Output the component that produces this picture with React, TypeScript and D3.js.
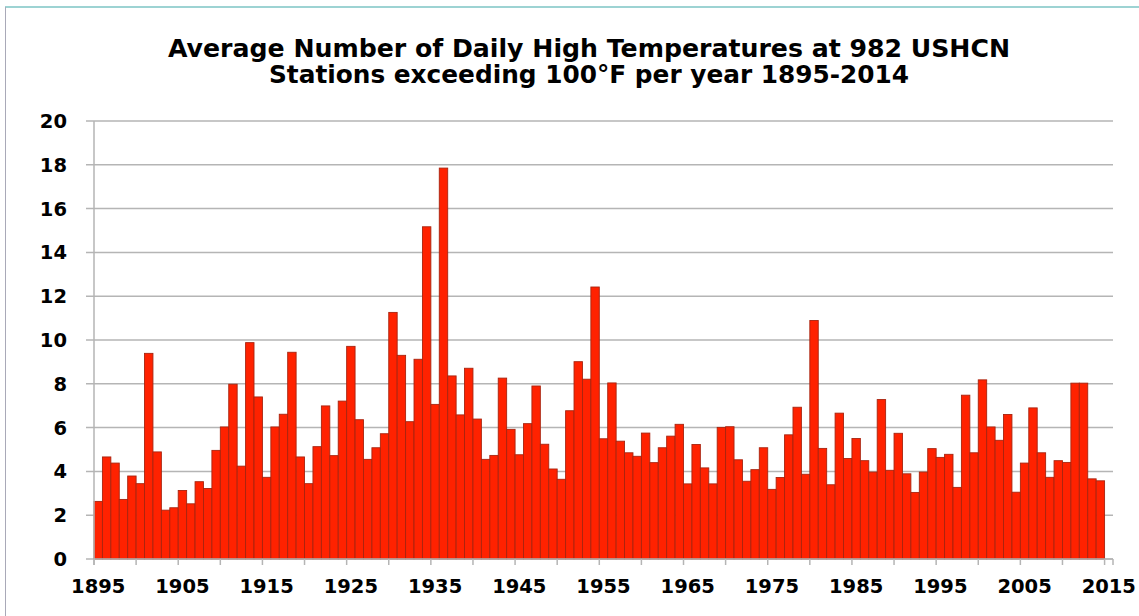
import React, { useEffect, useRef } from "react";
import * as d3 from "d3";

// years on the category axis (2015 slot is empty, like the source sheet)
const years: number[] = d3.range(1895, 2016);

// avg number of days above 100F, 1895-2014
const daysOver100: number[] = [
  2.63, 4.66, 4.38, 2.72, 3.79, 3.44, 9.39, 4.89, 2.23, 2.34,
  3.13, 2.52, 3.53, 3.22, 4.96, 6.03, 7.98, 4.24, 9.88, 7.40,
  3.73, 6.03, 6.61, 9.44, 4.66, 3.44, 5.13, 6.99, 4.72, 7.21,
  9.71, 6.36, 4.55, 5.08, 5.72, 11.26, 9.30, 6.27, 9.12, 15.17,
  7.06, 17.85, 8.36, 6.58, 8.71, 6.39, 4.55, 4.73, 8.26, 5.92,
  4.76, 6.18, 7.90, 5.24, 4.11, 3.64, 6.77, 9.01, 8.21, 12.42,
  5.49, 8.04, 5.38, 4.85, 4.69, 5.75, 4.40, 5.08, 5.61, 6.15,
  3.43, 5.23, 4.16, 3.43, 6.01, 6.04, 4.53, 3.55, 4.08, 5.08,
  3.18, 3.72, 5.67, 6.93, 3.87, 10.89, 5.05, 3.39, 6.66, 4.59,
  5.50, 4.49, 3.97, 7.28, 4.05, 5.74, 3.89, 3.04, 3.97, 5.04,
  4.64, 4.78, 3.27, 7.48, 4.85, 8.18, 6.03, 5.42, 6.60, 3.05,
  4.38, 6.90, 4.85, 3.73, 4.49, 4.41, 8.03, 8.03, 3.66, 3.57,
];

const yTicks: number[] = [0, 2, 4, 6, 8, 10, 12, 14, 16, 18, 20];
const xLabels: number[] = [1895, 1905, 1915, 1925, 1935, 1945, 1955, 1965, 1975, 1985, 1995, 2005, 2015];

const titleLines: string[] = [
  "Average Number of Daily High Temperatures at 982 USHCN",
  "Stations exceeding 100°F per year 1895-2014",
];

const App = () => {
  const svgRef = useRef<SVGSVGElement>(null);

  useEffect(() => {
    const width = 1139,
      height = 616;
    const left = 94,
      right = 1113,
      top = 121,
      bottom = 559;
    const font = "'DejaVu Sans', Verdana, sans-serif";
    const gridColor = "#b5b5b5";

    const svg = d3.select(svgRef.current).attr("width", width).attr("height", height);
    svg.selectAll("*").remove();

    svg.append("rect").attr("width", width).attr("height", height).attr("fill", "#fff");

    // slide frame
    svg.append("line")
      .attr("x1", 5).attr("x2", width).attr("y1", 7).attr("y2", 7)
      .attr("stroke", "#7cc4c4").attr("stroke-width", 1.5);
    svg.append("line")
      .attr("x1", 5.5).attr("x2", 5.5).attr("y1", 7).attr("y2", height)
      .attr("stroke", "#a9a9b8").attr("stroke-width", 1);

    // title
    const titleY = [56.5, 83];
    const titleLen = [842, 640];
    svg.selectAll(".title")
      .data(titleLines)
      .join("text")
      .attr("class", "title")
      .attr("x", 589)
      .attr("y", (d, i) => titleY[i])
      .attr("text-anchor", "middle")
      .attr("textLength", (d, i) => titleLen[i])
      .attr("lengthAdjust", "spacingAndGlyphs")
      .style("font-family", font)
      .style("font-weight", "bold")
      .style("font-size", "24px")
      .attr("fill", "#000")
      .text(d => d);

    const x = d3.scaleBand<number>().domain(years).range([left, right]).padding(0);
    const y = d3.scaleLinear().domain([0, 20]).range([bottom, top]);

    // gridlines + y ticks
    svg.selectAll(".grid")
      .data(yTicks)
      .join("line")
      .attr("class", "grid")
      .attr("x1", left - 8)
      .attr("x2", right)
      .attr("y1", d => y(d))
      .attr("y2", d => y(d))
      .attr("stroke", gridColor)
      .attr("stroke-width", 1.5);

    svg.selectAll(".ylab")
      .data(yTicks)
      .join("text")
      .attr("class", "ylab")
      .attr("x", 67)
      .attr("y", d => y(d) + 7)
      .attr("text-anchor", "end")
      .style("font-family", font)
      .style("font-weight", "bold")
      .style("font-size", "19.5px")
      .text(d => d);

    // bars
    svg.selectAll(".bar")
      .data(daysOver100)
      .join("rect")
      .attr("class", "bar")
      .attr("x", (d, i) => x(years[i])!)
      .attr("y", d => y(d))
      .attr("width", x.bandwidth())
      .attr("height", d => y(0) - y(d))
      .attr("fill", "#ff2200")
      .attr("stroke", "#a8240f")
      .attr("stroke-width", 0.9);

    // axes lines
    svg.append("line")
      .attr("x1", left).attr("x2", left).attr("y1", top).attr("y2", bottom + 6)
      .attr("stroke", gridColor).attr("stroke-width", 1.5);
    svg.append("line")
      .attr("x1", left).attr("x2", right).attr("y1", bottom).attr("y2", bottom)
      .attr("stroke", gridColor).attr("stroke-width", 1.5);

    // x ticks every 5 categories, on the boundaries
    const tickYears = years.filter(d => (d - 1895) % 5 === 0).concat([2016]);
    svg.selectAll(".xtick")
      .data(tickYears)
      .join("line")
      .attr("class", "xtick")
      .attr("x1", d => (d === 2016 ? right : x(d)!))
      .attr("x2", d => (d === 2016 ? right : x(d)!))
      .attr("y1", bottom)
      .attr("y2", bottom + 6)
      .attr("stroke", gridColor)
      .attr("stroke-width", 1.5);

    svg.selectAll(".xlab")
      .data(xLabels)
      .join("text")
      .attr("class", "xlab")
      .attr("x", d => x(d)! + x.bandwidth() / 2)
      .attr("y", 593)
      .attr("text-anchor", "middle")
      .style("font-family", font)
      .style("font-weight", "bold")
      .style("font-size", "19.5px")
      .text(d => d);
  }, []);

  return (
    <div style={{ position: "fixed", left: 0, top: 0 }}>
      <svg ref={svgRef} style={{ display: "block" }}></svg>
    </div>
  );
};

export default App;
